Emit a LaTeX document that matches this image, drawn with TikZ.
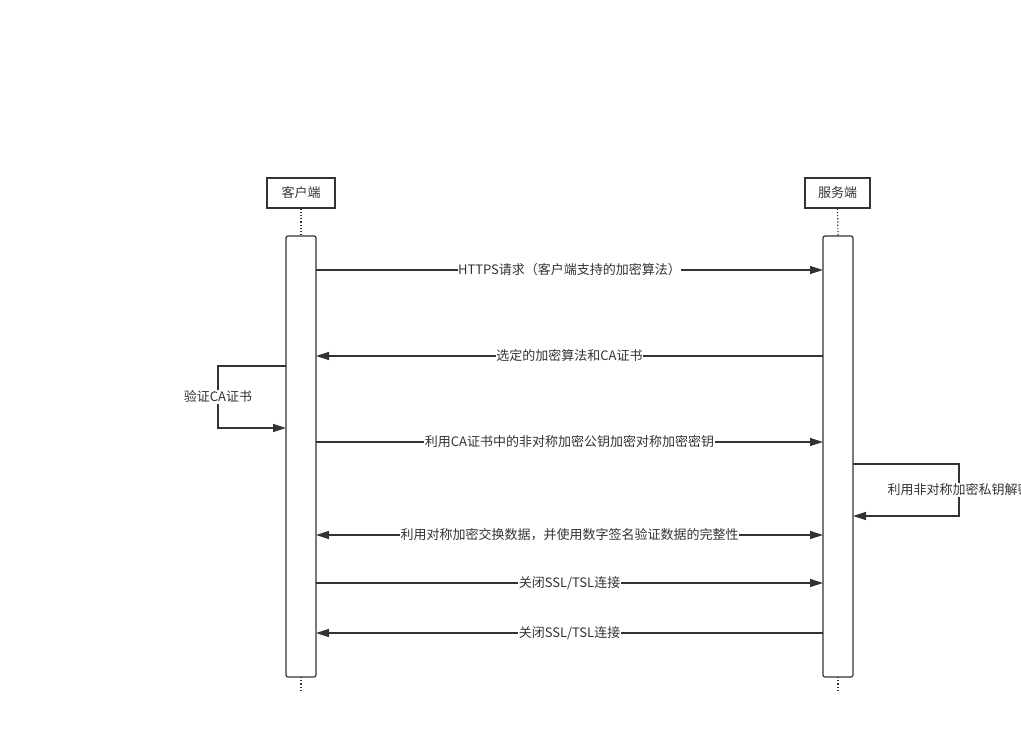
\documentclass[tikz,border=0pt]{standalone}
\usepackage{fontspec}
\setmainfont{Noto Sans CJK SC}
\usetikzlibrary{arrows.meta}
\definecolor{ln}{HTML}{333333}
\begin{document}
\begin{tikzpicture}[x=1pt,y=-1pt,
  actor/.style={draw=ln,line width=1.2pt,fill=white,minimum width=68pt,minimum height=30pt,inner sep=0pt,font=\fontsize{13}{15}\selectfont,text=ln},
  bar/.style={draw=ln,line width=1.2pt,rounded corners=2pt,fill=white},
  msg/.style={draw=ln,line width=1.2pt,-{Triangle[length=13pt,width=8pt]}},
  lbl/.style={fill=white,inner sep=0.5pt,font=\fontsize{13}{15}\selectfont,text=ln},
  life/.style={draw=ln,line width=1.2pt,dotted}]
\useasboundingbox (0,0) rectangle (1021,755);
\fill[white] (0,0) rectangle (1021,755);
\node[actor] (c) at (301,193) {客户端};
\node[actor,minimum width=65pt] (s) at (837.5,193) {服务端};
\draw[life] (c.south) -- (301,236);
\draw[life] (s.south) -- (838,236);
\draw[life] (301,677) -- (301,690);
\draw[life] (838,677) -- (838,690);
\draw[bar] (286,236) rectangle (316,677);
\draw[bar] (823,236) rectangle (853,677);
\coordinate (c1) at (316,270); \coordinate (s1) at (823,270);
\draw[msg] (c1) -- node[lbl]{HTTPS请求（客户端支持的加密算法）} (s1);
\coordinate (c2) at (316,356); \coordinate (s2) at (823,356);
\draw[msg] (s2) -- node[lbl]{选定的加密算法和CA证书} (c2);
\coordinate (l1) at (286,366); \coordinate (l2) at (286,428);
\draw[msg] (l1) -- (218,366) -- node[lbl]{验证CA证书} (218,428) -- (l2);
\coordinate (c3) at (316,442); \coordinate (s3) at (823,442);
\draw[msg] (c3) -- node[lbl]{利用CA证书中的非对称加密公钥加密对称加密密钥} (s3);
\coordinate (r1) at (853,464); \coordinate (r2) at (853,516);
\draw[msg] (r1) -- (959,464) -- node[lbl]{利用非对称加密私钥解密} (959,516) -- (r2);
\coordinate (c4) at (316,535); \coordinate (s4) at (823,535);
\draw[msg,{Triangle[length=13pt,width=8pt]}-{Triangle[length=13pt,width=8pt]}] (c4) -- node[lbl]{利用对称加密交换数据，并使用数字签名验证数据的完整性} (s4);
\coordinate (c5) at (316,583); \coordinate (s5) at (823,583);
\draw[msg] (c5) -- node[lbl]{关闭SSL/TSL连接} (s5);
\coordinate (c6) at (316,633); \coordinate (s6) at (823,633);
\draw[msg] (s6) -- node[lbl]{关闭SSL/TSL连接} (c6);
\end{tikzpicture}
\end{document}
